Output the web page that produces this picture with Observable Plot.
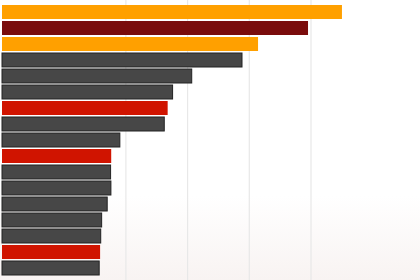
<!DOCTYPE html>
<html>
<head>
<meta charset="utf-8">
<script src="https://cdn.jsdelivr.net/npm/d3@7"></script>
<script src="https://cdn.jsdelivr.net/npm/@observablehq/plot@0.6"></script>
<style>
  html, body { margin: 0; padding: 0; }
  body { width: 420px; height: 280px; overflow: hidden;
         background: linear-gradient(to bottom, #ffffff 0%, #ffffff 70%, #f8f3f2 100%); }
  #chart svg { display: block; background: transparent; }
</style>
</head>
<body>
<div id="chart"></div>
<script>
const categories = ["B1","B2","B3","B4","B5","B6","B7","B8","B9","B10","B11","B12","B13","B14","B15","B16","B17"];
const values = [110.2, 99.2, 83.0, 77.8, 61.5, 55.3, 53.7, 52.6, 38.2, 35.4, 35.2, 35.3, 34.1, 32.3, 32.0, 31.8, 31.5];
const groups = ["top","second","top","base","base","base","alert","base","base","alert","base","base","base","base","base","alert","base"];
const gridTicks = [40, 60, 80, 100];

const data = categories.map((c, i) => ({category: c, value: values[i], group: groups[i]}));

const chart = Plot.plot({
  width: 420,
  height: 280,
  marginLeft: 2,
  marginRight: 0,
  marginTop: 0,
  marginBottom: 0,
  style: {background: "transparent"},
  x: {domain: [0, 135.5], axis: null},
  y: {domain: categories, padding: 0.15, axis: null},
  color: {
    type: "ordinal",
    domain: ["top","second","alert","base"],
    range: ["#ffa000","#7a0c0c","#d01400","#474747"]
  },
  marks: [
    Plot.ruleX(gridTicks, {stroke: "#e8e8e8", strokeWidth: 1.2}),
    Plot.barX(data, {
      x: "value",
      y: "category",
      fill: "group",
      stroke: d => d.group === "base" ? "#222222" : "none",
      strokeWidth: 1
    })
  ]
});
document.getElementById("chart").appendChild(chart);
</script>
</body>
</html>
